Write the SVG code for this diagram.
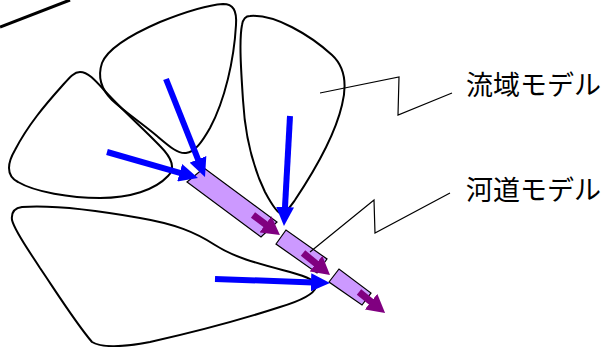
<svg xmlns="http://www.w3.org/2000/svg" width="605" height="347" viewBox="0 0 605 347">
<defs>
<style>
.basin{fill:none;stroke:#000;stroke-width:2}
.chan{fill:#cc99ff;stroke:#000;stroke-width:1.2}
.lead{fill:none;stroke:#000;stroke-width:1.2}
.blue{stroke:#0000ff;stroke-width:6;fill:none}
.purp{stroke:#800080;stroke-width:7;fill:none}
.lbl{font-family:"Noto Sans CJK JP","Noto Sans",sans-serif;font-size:27px;fill:#000}
</style>
<marker id="bh" markerUnits="userSpaceOnUse" markerWidth="19" markerHeight="18" refX="2" refY="9" orient="auto">
<path d="M0,0 L19,9 L0,18 Z" fill="#0000ff"/>
</marker>
<marker id="ph" markerUnits="userSpaceOnUse" markerWidth="18" markerHeight="20" refX="2" refY="10" orient="auto">
<path d="M0,0 L18,10 L0,20 Z" fill="#800080"/>
</marker>
</defs>
<rect width="605" height="347" fill="#fff"/>
<line x1="0" y1="27" x2="70" y2="0" stroke="#000" stroke-width="3"/>
<g id="basinA"><path class="basin" d="M80,72 C88,72 95,80 104,90 C120,108 145,130 160,146 C172,158 176,168 168,176 C155,190 130,198 100,198 C70,198 35,192 18,182 C5,175 8,162 15,150 C28,125 45,105 62,86 C70,77 74,72 80,72 Z"/></g>
<g id="basinB"><path class="basin" d="M223,4 C233,4 237,10 236,25 C234,60 225,100 210,128 C202,142 195,152 186,153 C178,154 170,147 157,136 C140,122 125,112 112,100 C100,88 98,75 102,63 C108,48 130,35 160,22 C185,12 208,5 223,4 Z"/></g>
<g id="basinC"><path class="basin" d="M250,16 C275,14 310,35 332,55 C345,67 347,85 342,105 C335,135 315,170 295,200 C290,207 286,213 282,214 C278,214 272,205 265,192 C252,165 245,135 243,100 C241,70 239,40 242,25 C243,19 246,16 250,16 Z"/></g>
<g id="basinD"><path class="basin" d="M22,207 C50,205 95,210 140,218 C175,224 195,232 215,245 C235,258 260,264 290,272 C308,277 317,281 316,287 C314,294 300,301 280,307 C240,320 190,333 150,342 C120,348 100,347 92,342 C75,322 55,290 40,268 C30,252 15,232 12,220 C11,212 15,208 22,207 Z"/></g>
<g id="channel1"><polygon class="chan" points="187,182 204,168 277,222 261,237"/></g>
<g id="channel2"><polygon class="chan" points="276,244 286,230 327,259 317,273"/></g>
<g id="channel3"><polygon class="chan" points="329,282 339,269 371,293 362,305"/></g>
<g id="connectors">
<polyline class="lead" points="320,93 399,77 398,115 452,93"/>
<polyline class="lead" points="310,252 374,200 375,233 450,193"/>
<line class="blue" x1="107" y1="152" x2="181.6" y2="173.3" marker-end="url(#bh)"/>
<line class="blue" x1="166" y1="79" x2="198.7" y2="161.2" marker-end="url(#bh)"/>
<line class="blue" x1="290" y1="116" x2="284.9" y2="209" marker-end="url(#bh)"/>
<line class="blue" x1="215" y1="279" x2="313" y2="282.4" marker-end="url(#bh)"/>
<line class="purp" x1="253" y1="215" x2="267.1" y2="225.5" marker-end="url(#ph)"/>
<line class="purp" x1="303" y1="253" x2="317.6" y2="264.9" marker-end="url(#ph)"/>
<line class="purp" x1="359" y1="292" x2="372.6" y2="302.9" marker-end="url(#ph)"/>
</g>
<g id="label1"><text class="lbl" x="466" y="95">流域モデル</text></g>
<g id="label2"><text class="lbl" x="466" y="200">河道モデル</text></g>
</svg>
